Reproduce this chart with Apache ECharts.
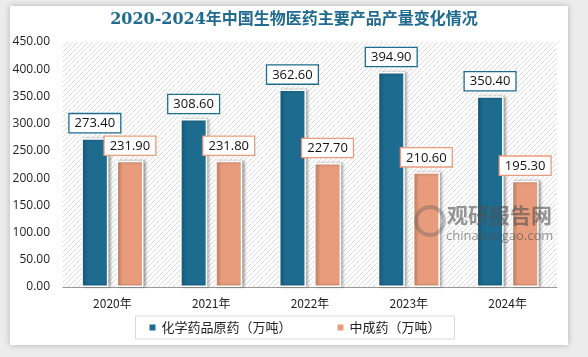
<!DOCTYPE html>
<html><head><meta charset="utf-8">
<script src="https://cdn.jsdelivr.net/npm/echarts@6/dist/echarts.min.js"></script>
<style>
html,body{margin:0;padding:0;background:#ececec;width:588px;height:357px;overflow:hidden;}
#card{position:absolute;left:10px;top:6px;width:558px;height:339px;background:#fff;box-shadow:0 0 6px rgba(0,0,0,0.25);}
#main{position:absolute;left:0;top:0;width:588px;height:357px;}
</style></head>
<body>
<div id="card"></div>
<div id="main"></div>
<script>
const categories = ['2020年','2021年','2022年','2023年','2024年'];
const seriesNames = ['化学药品原药（万吨）','中成药（万吨）'];
const chemValues = [273.40, 308.60, 362.60, 394.90, 350.40];
const tcmValues = [231.90, 231.80, 227.70, 210.60, 195.30];
const titleText = '2020-2024年中国生物医药主要产品产量变化情况';

const blue = '#1d6b8f';
const orange = '#e89c7c';

// hatch pattern
const pc = document.createElement('canvas');
pc.width = 5; pc.height = 5;
const pctx = pc.getContext('2d');
pctx.fillStyle = '#ffffff'; pctx.fillRect(0,0,5,5);
pctx.strokeStyle = '#dcdcdc'; pctx.lineWidth = 1;
pctx.beginPath();
pctx.moveTo(0,5); pctx.lineTo(5,0);
pctx.moveTo(-2.5,2.5); pctx.lineTo(2.5,-2.5);
pctx.moveTo(2.5,7.5); pctx.lineTo(7.5,2.5);
pctx.stroke();

const chart = echarts.init(document.getElementById('main'), null, {renderer:'canvas'});
function labelCfg(color){
  return {show:true, position:'top', distance:6, color:'#111', fontSize:13,
    fontFamily:'"Open Sans","Noto Sans",sans-serif',
    backgroundColor:'#fff', borderColor:color, borderWidth:1.3, padding:[3,5,2,5],
    formatter: p => p.value.toFixed(2)};
}
chart.setOption({
  animation:false,
  title:{text:titleText, left:'center', top:7,
    textStyle:{color:'#1f6a8e', fontSize:16, fontWeight:'bold', fontFamily:'"DejaVu Serif","Noto Sans CJK SC",serif'}},
  grid:{left:63, right:31, top:42, bottom:70, show:true, backgroundColor:{image:pc, repeat:'repeat'}, borderWidth:0},
  legend:{bottom:18, left:'center', itemWidth:8, itemHeight:8, itemGap:44, icon:'rect',
    padding:[5,14,5,12], borderColor:'#d9d9d9', borderWidth:1,
    textStyle:{fontSize:13, color:'#222', fontFamily:'"Noto Sans CJK SC",sans-serif'},
    data:seriesNames},
  xAxis:{type:'category', data:categories,
    axisLine:{lineStyle:{color:'#999'}}, axisTick:{show:false},
    axisLabel:{color:'#222', fontSize:12, margin:10, fontFamily:'"Noto Sans CJK SC",sans-serif'}},
  yAxis:{type:'value', min:0, max:450, interval:50,
    axisLine:{show:false}, axisTick:{show:false}, splitLine:{show:false},
    axisLabel:{color:'#222', fontSize:12, margin:13, fontFamily:'"Open Sans","Noto Sans",sans-serif',
      formatter:v=>v.toFixed(2)}},
  series:[
    {name:seriesNames[0], type:'bar', data:chemValues, barWidth:27, barGap:'30%',
      itemStyle:{color:blue, borderColor:'#fff', borderWidth:1.5, shadowBlur:3, shadowColor:'rgba(0,0,0,0.35)', shadowOffsetX:2, shadowOffsetY:0},
      label:labelCfg(blue)},
    {name:seriesNames[1], type:'bar', data:tcmValues, barWidth:27,
      itemStyle:{color:orange, borderColor:'#fff', borderWidth:1.5, shadowBlur:3, shadowColor:'rgba(0,0,0,0.35)', shadowOffsetX:2, shadowOffsetY:0},
      label:labelCfg(orange)}
  ],
  graphic:{elements:[
    {type:'circle', zlevel:1, z:100, shape:{cx:430, cy:221, r:14}, style:{fill:'none', stroke:'rgba(90,90,90,0.35)', lineWidth:4}},
    {type:'text', zlevel:1, z:100, left:447, top:205, style:{text:'观研报告网', fill:'rgba(80,80,80,0.6)', font:'bold 21px "Noto Sans CJK SC",sans-serif'}},
    {type:'text', zlevel:1, z:100, left:446, top:230, style:{text:'chinabaogao.com', fill:'rgba(80,80,80,0.6)', font:'13px "Open Sans",sans-serif'}}
  ]}
});
</script>
</body></html>
